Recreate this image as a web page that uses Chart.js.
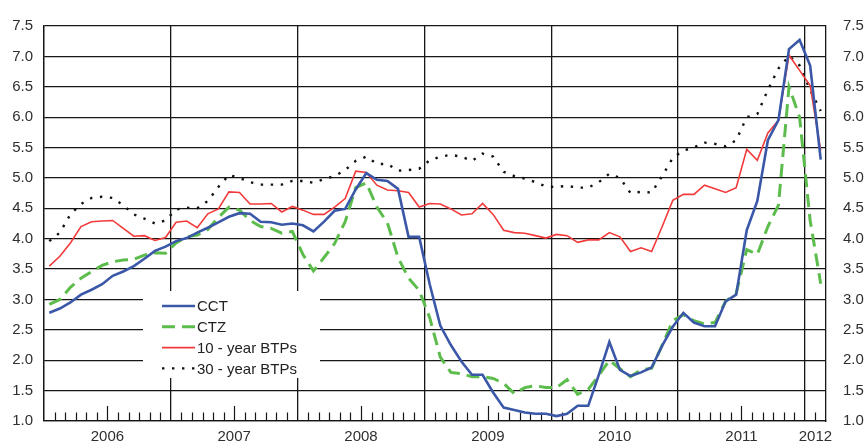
<!DOCTYPE html>
<html><head><meta charset="utf-8">
<script src="https://cdn.jsdelivr.net/npm/chart.js@4.4.0/dist/chart.umd.min.js"></script>
<style>html,body{margin:0;padding:0;background:#fff;}</style>
</head><body>
<canvas id="c" width="867" height="447"></canvas>
<script>
// ---- categories: monthly, Jan 2006 .. Feb 2012 ----
const years = ['2006','2007','2008','2009','2010','2011','2012'];
const monthNames = ['01','02','03','04','05','06','07','08','09','10','11','12'];
const months = [];
years.forEach(y => monthNames.forEach(m => months.push(y + '-' + m)));
months.length = 74;

// ---- series (percent) ----
const cct = [
  2.78, 2.85, 2.95, 3.08, 3.16, 3.25, 3.39, 3.46, 3.55, 3.67, 3.80, 3.87,
  3.96, 4.01, 4.10, 4.18, 4.27, 4.36, 4.42, 4.41, 4.28, 4.27, 4.23, 4.25,
  4.22, 4.12, 4.28, 4.46, 4.49, 4.81, 5.08, 4.97, 4.95, 4.82, 4.03, 4.03,
  3.25, 2.57, 2.25, 1.98, 1.76, 1.76, 1.47, 1.22, 1.18, 1.14, 1.12, 1.12,
  1.08, 1.12, 1.25, 1.25, 1.76, 2.30, 1.84, 1.74, 1.80, 1.88, 2.24, 2.55,
  2.78, 2.62, 2.56, 2.56, 2.97, 3.08, 4.14, 4.62, 5.62, 5.95, 7.12, 7.27, 6.85, 5.30
];
const ctz = [
  2.92, 3.00, 3.20, 3.35, 3.46, 3.56, 3.62, 3.65, 3.66, 3.73, 3.77, 3.76,
  3.93, 4.03, 4.06, 4.15, 4.35, 4.52, 4.47, 4.30, 4.20, 4.17, 4.09, 4.12,
  3.74, 3.47, 3.69, 3.92, 4.28, 4.84, 4.92, 4.52, 4.26, 3.69, 3.35, 3.15,
  2.70, 2.05, 1.80, 1.78, 1.73, 1.73, 1.70, 1.62, 1.45, 1.55, 1.58, 1.55,
  1.55, 1.68, 1.44, 1.52, 1.75, 2.00, 1.86, 1.73, 1.84, 1.87, 2.25, 2.65,
  2.75, 2.65, 2.60, 2.62, 2.97, 3.10, 3.82, 3.74, 4.20, 4.55, 6.50, 6.00, 4.30, 3.26
];
const btp10 = [
  3.55, 3.71, 3.93, 4.20, 4.28, 4.29, 4.30, 4.17, 4.04, 4.05, 3.97, 4.02,
  4.27, 4.29, 4.18, 4.41, 4.49, 4.77, 4.76, 4.57, 4.57, 4.58, 4.44, 4.53,
  4.47, 4.40, 4.40, 4.52, 4.66, 5.11, 5.09, 4.88, 4.80, 4.79, 4.76, 4.52,
  4.58, 4.57, 4.49, 4.39, 4.41, 4.58, 4.40, 4.14, 4.10, 4.09, 4.05, 4.01,
  4.07, 4.05, 3.94, 3.98, 3.98, 4.10, 4.03, 3.79, 3.85, 3.79, 4.20, 4.63,
  4.73, 4.73, 4.88, 4.82, 4.76, 4.84, 5.47, 5.29, 5.74, 5.95, 7.02, 6.77, 6.52, 5.45
];
const btp30 = [
  3.96, 4.10, 4.40, 4.57, 4.67, 4.69, 4.67, 4.55, 4.40, 4.33, 4.25, 4.30,
  4.48, 4.51, 4.50, 4.62, 4.85, 5.05, 5.00, 4.93, 4.89, 4.89, 4.89, 4.95,
  4.95, 4.92, 4.98, 5.03, 5.13, 5.28, 5.35, 5.23, 5.23, 5.12, 5.13, 5.15,
  5.29, 5.35, 5.38, 5.35, 5.28, 5.40, 5.35, 5.10, 5.03, 4.99, 4.93, 4.86,
  4.85, 4.87, 4.84, 4.84, 4.93, 5.07, 5.00, 4.75, 4.77, 4.76, 5.03, 5.33,
  5.45, 5.50, 5.58, 5.56, 5.52, 5.62, 6.00, 6.05, 6.45, 6.80, 7.01, 6.85, 6.45, 6.10
];
const seriesLabels = ['CCT', 'CTZ', '10 - year BTPs', '30 - year BTPs'];
const yTicks = [1.0,1.5,2.0,2.5,3.0,3.5,4.0,4.5,5.0,5.5,6.0,6.5,7.0,7.5];

// month i is drawn at the centre of its band [i, i+1]
const pts = arr => arr.map((v, i) => ({x: i + 0.5, y: v}));

// year label sits at mean centre of that year's months
const yearLabelAt = {};
years.forEach(y => {
  const idx = months.map((m, i) => m.startsWith(y) ? i + 0.5 : null).filter(v => v !== null);
  if (idx.length) yearLabelAt[idx.reduce((a, b) => a + b, 0) / idx.length] = y;
});

const FONT = '"Liberation Sans", Arial, sans-serif';
Chart.defaults.font.family = FONT;
Chart.defaults.font.size = 15;
Chart.defaults.color = '#2f2f2f';
const GRID = '#161616';

const monthTicks = {
  id: 'monthTicks',
  beforeDatasetsDraw(chart) {
    const {ctx, chartArea, scales: {x}} = chart;
    ctx.save();
    ctx.strokeStyle = GRID; ctx.lineWidth = 1.2;
    for (let v = 1; v < months.length; v++) {
      const mm = months[v].slice(5);
      if (mm === '01') continue;
      const px = Math.round(x.getPixelForValue(v)) + 0.5;
      const len = mm === '07' ? 15 : 8.5;
      ctx.beginPath(); ctx.moveTo(px, chartArea.bottom); ctx.lineTo(px, chartArea.bottom - len); ctx.stroke();
    }
    ctx.restore();
  }
};

const insetLegend = {
  id: 'insetLegend',
  afterDatasetsDraw(chart, args, o) {
    const {ctx} = chart;
    ctx.save();
    ctx.fillStyle = '#fff';
    ctx.fillRect(o.left, o.top, o.width, o.height);
    chart.data.datasets.forEach((ds, i) => {
      const y = o.firstRow + i * o.rowGap;
      ctx.beginPath();
      ctx.strokeStyle = ds.borderColor;
      ctx.lineWidth = ds.borderWidth;
      ctx.setLineDash(ds.borderDash || []);
      ctx.moveTo(o.lineX0, y); ctx.lineTo(o.lineX1, y); ctx.stroke();
      ctx.setLineDash([]);
      ctx.fillStyle = '#222';
      ctx.font = '15px ' + FONT;
      ctx.textBaseline = 'middle';
      ctx.textAlign = 'left';
      ctx.fillText(ds.label, o.lineX1 + 2, y + 1);
    });
    ctx.restore();
  }
};

new Chart(document.getElementById('c'), {
  type: 'line',
  data: {
    datasets: [
      {label: seriesLabels[0], data: pts(cct), borderColor: '#3b58a8', borderWidth: 2.6},
      {label: seriesLabels[1], data: pts(ctz), borderColor: '#5cbc4c', borderWidth: 3, borderDash: [13, 7]},
      {label: seriesLabels[2], data: pts(btp10), borderColor: '#f23a3a', borderWidth: 1.6},
      {label: seriesLabels[3], data: pts(btp30), borderColor: '#111', borderWidth: 2.4, borderDash: [2.4, 7.6]}
    ]
  },
  options: {
    responsive: false,
    animation: false,
    events: [],
    layout: {padding: {top: 16, left: 0, right: 0, bottom: 0}},
    elements: {point: {radius: 0}, line: {tension: 0, fill: false}},
    plugins: {
      legend: {display: false},
      tooltip: {enabled: false},
      insetLegend: {left: 143, top: 291, width: 177, height: 87, firstRow: 306, rowGap: 20.8, lineX0: 162, lineX1: 195}
    },
    scales: {
      x: {
        type: 'linear', min: 0, max: months.length,
        afterBuildTicks: s => { s.ticks = months.map((m, i) => ({value: i})).concat([{value: months.length}]); },
        afterFit: s => { s.height = 26; },
        grid: {
          color: c => (c.tick && months[c.tick.value] && months[c.tick.value].endsWith('-01')) ? GRID : 'rgba(0,0,0,0)',
          lineWidth: 1.3, drawTicks: false
        },
        border: {display: true, color: GRID, width: 1.3},
        ticks: {
          autoSkip: false, maxRotation: 0, padding: 7,
          callback: v => yearLabelAt[v] || ''
        }
      },
      y: {
        position: 'left', min: 1, max: 7.5,
        afterBuildTicks: s => { s.ticks = yTicks.map(v => ({value: v})); },
        afterFit: s => { s.width = 44; },
        grid: {color: GRID, lineWidth: 1.3, drawTicks: false},
        border: {display: true, color: GRID, width: 1.3},
        ticks: {padding: 11, callback: v => v.toFixed(1)}
      },
      y2: {
        position: 'right', min: 1, max: 7.5,
        afterBuildTicks: s => { s.ticks = yTicks.map(v => ({value: v})); },
        afterFit: s => { s.width = 41; },
        grid: {drawOnChartArea: false, drawTicks: false},
        border: {display: true, color: GRID, width: 1.3},
        ticks: {padding: 17, callback: v => v.toFixed(1)}
      }
    }
  },
  plugins: [monthTicks, insetLegend]
});
</script>
</body></html>
